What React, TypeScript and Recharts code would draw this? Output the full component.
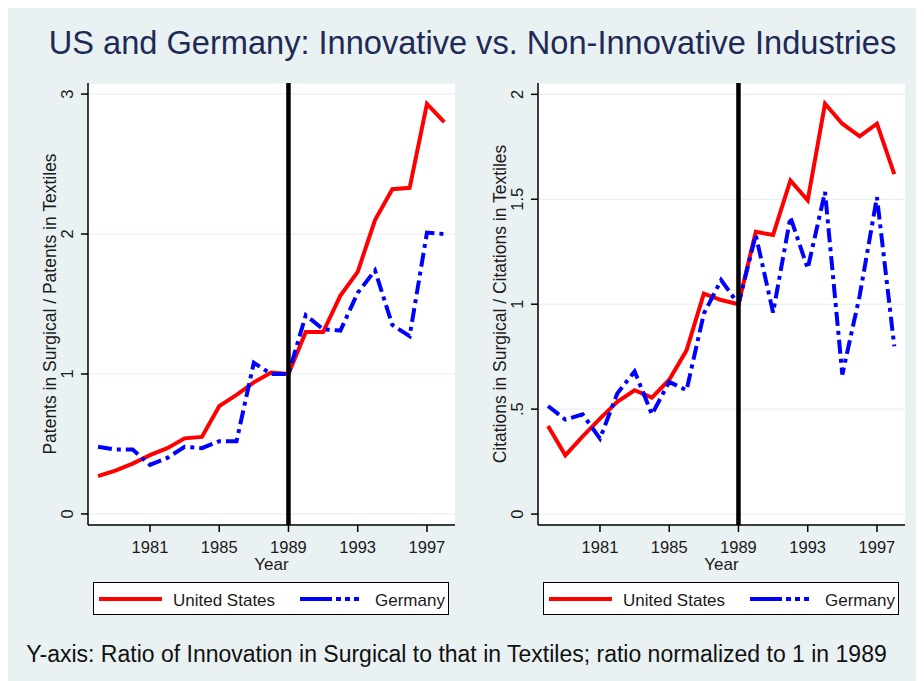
import { LineChart, Line, XAxis, YAxis, CartesianGrid, ReferenceLine } from 'recharts';

// years on the x axis
const years = [
  1978, 1979, 1980, 1981, 1982, 1983, 1984, 1985, 1986, 1987, 1988,
  1989, 1990, 1991, 1992, 1993, 1994, 1995, 1996, 1997, 1998,
];

// patents ratio (surgical / textiles), normalized to 1 in 1989
const usPatents = [
  0.27, 0.31, 0.36, 0.42, 0.47, 0.54, 0.55, 0.77, 0.85, 0.94, 1.01,
  1.0, 1.3, 1.3, 1.56, 1.73, 2.1, 2.32, 2.33, 2.93, 2.8,
];
const dePatents = [
  0.48, 0.46, 0.46, 0.35, 0.4, 0.48, 0.47, 0.52, 0.52, 1.08, 1.0,
  1.0, 1.42, 1.32, 1.31, 1.58, 1.74, 1.35, 1.27, 2.01, 2.0,
];

// citations ratio (surgical / textiles), normalized to 1 in 1989
const usCitations = [
  0.42, 0.28, 0.37, 0.455, 0.535, 0.59, 0.555, 0.64, 0.78, 1.05, 1.02,
  1.0, 1.345, 1.33, 1.59, 1.495, 1.955, 1.86, 1.8, 1.86, 1.62,
];
const deCitations = [
  0.515, 0.45, 0.475, 0.36, 0.575, 0.68, 0.475, 0.63, 0.59, 0.955, 1.115,
  1.0, 1.33, 0.96, 1.415, 1.17, 1.535, 0.665, 1.04, 1.51, 0.8,
];

const yearTicks = [1981, 1985, 1989, 1993, 1997];
const patentTicks = [0, 1, 2, 3];
const citationTicks = [0, 0.5, 1, 1.5, 2];
const seriesNames = ['United States', 'Germany'];

const FONT = "'Liberation Sans', Arial, sans-serif";
const BG = '#EAF1F3';
const TXT = '#1a1a1a';
const DASH = '14 5 4 5';

const patentsData = years.map((year, i) => ({ year, us: usPatents[i], de: dePatents[i] }));
const citationsData = years.map((year, i) => ({ year, us: usCitations[i], de: deCitations[i] }));

// stata style: .5 instead of 0.5
const fmtTick = (v: number) => (v === 0 ? '0' : String(v).replace(/^0\./, '.'));

const RotatedTick = ({ x, y, payload }: any) => (
  <g transform={`translate(${x - 6},${y}) rotate(-90)`}>
    <text x={0} y={0} textAnchor="middle" fontSize={16.5} fill={TXT} fontFamily={FONT}>
      {fmtTick(payload.value)}
    </text>
  </g>
);

const YTitle = ({ viewBox, text }: any) => {
  const cx = viewBox.x + 47.5;
  const cy = viewBox.y + viewBox.height / 2;
  return (
    <text
      x={cx}
      y={cy}
      transform={`rotate(-90 ${cx} ${cy})`}
      textAnchor="middle"
      fontSize={17.5}
      fill={TXT}
      fontFamily={FONT}
    >
      {text}
    </text>
  );
};

function Panel({ data, left, yTicks, yDomain, yLabel }: any) {
  return (
    <div style={{ position: 'absolute', left, top: 0 }}>
      <LineChart width={460} height={580} data={data} margin={{ top: 75, right: 13, bottom: 13, left: 0 }}>
        <CartesianGrid vertical={false} stroke="#E3ECEF" fill="#FFFFFF" />
        <XAxis
          dataKey="year"
          type="number"
          domain={[1977.42, 1998.62]}
          ticks={yearTicks}
          allowDataOverflow
          height={50}
          tickSize={7}
          tickMargin={9}
          axisLine={{ stroke: '#000', strokeWidth: 1.5 }}
          tickLine={{ stroke: '#000', strokeWidth: 1.5 }}
          tick={{ fontSize: 16.5, fill: TXT, fontFamily: FONT }}
          label={{ value: 'Year', position: 'insideBottom', offset: 5, fontSize: 17, fill: TXT, fontFamily: FONT }}
        />
        <YAxis
          type="number"
          domain={yDomain}
          ticks={yTicks}
          allowDataOverflow
          width={80}
          tickSize={7}
          axisLine={{ stroke: '#000', strokeWidth: 1.5 }}
          tickLine={{ stroke: '#000', strokeWidth: 1.5 }}
          tick={<RotatedTick />}
          label={<YTitle text={yLabel} />}
        />
        <Line type="linear" dataKey="us" name={seriesNames[0]} stroke="#FF0000" strokeWidth={4} dot={false} isAnimationActive={false} />
        <Line type="linear" dataKey="de" name={seriesNames[1]} stroke="#0000FF" strokeWidth={4} strokeDasharray={DASH} dot={false} isAnimationActive={false} />
        <ReferenceLine x={1989} stroke="#000" strokeWidth={4.5} />
      </LineChart>
    </div>
  );
}

function LegendBox({ left }: { left: number }) {
  return (
    <svg style={{ position: 'absolute', left, top: 574 }} width={357} height={34}>
      <rect x={0.5} y={0.5} width={355} height={32} fill="#fff" stroke="#000" strokeWidth={1} />
      <line x1={6} x2={69} y1={17} y2={17} stroke="#FF0000" strokeWidth={4} />
      <text x={80} y={24} fontSize={17} fill={TXT} fontFamily={FONT}>{seriesNames[0]}</text>
      <line x1={207} x2={270} y1={17} y2={17} stroke="#0000FF" strokeWidth={4} strokeDasharray="32 4 5 4 5 4 5 10" />
      <text x={282} y={24} fontSize={17} fill={TXT} fontFamily={FONT}>{seriesNames[1]}</text>
    </svg>
  );
}

export default function App() {
  return (
    <div style={{ position: 'relative', width: 916, height: 673, background: BG, overflow: 'hidden' }}>
      <svg style={{ position: 'absolute', left: 0, top: 0 }} width={916} height={673}>
        <text x={464.5} y={46} textAnchor="middle" fontSize={32.6} fill="#1d2b55" fontFamily={FONT}>
          US and Germany: Innovative vs. Non-Innovative Industries
        </text>
      </svg>
      <Panel
        data={patentsData}
        left={0}
        yTicks={patentTicks}
        yDomain={[-0.079, 3.079]}
        yLabel="Patents in Surgical / Patents in Textiles"
      />
      <Panel
        data={citationsData}
        left={450}
        yTicks={citationTicks}
        yDomain={[-0.052, 2.054]}
        yLabel="Citations in Surgical / Citations in Textiles"
      />
      <LegendBox left={85} />
      <LegendBox left={535} />
      <svg style={{ position: 'absolute', left: 0, top: 620 }} width={916} height={53}>
        <text x={448.5} y={33.7} textAnchor="middle" fontSize={23} fill="#111" fontFamily={FONT}>
          Y-axis: Ratio of Innovation in Surgical to that in Textiles; ratio normalized to 1 in 1989
        </text>
      </svg>
    </div>
  );
}
